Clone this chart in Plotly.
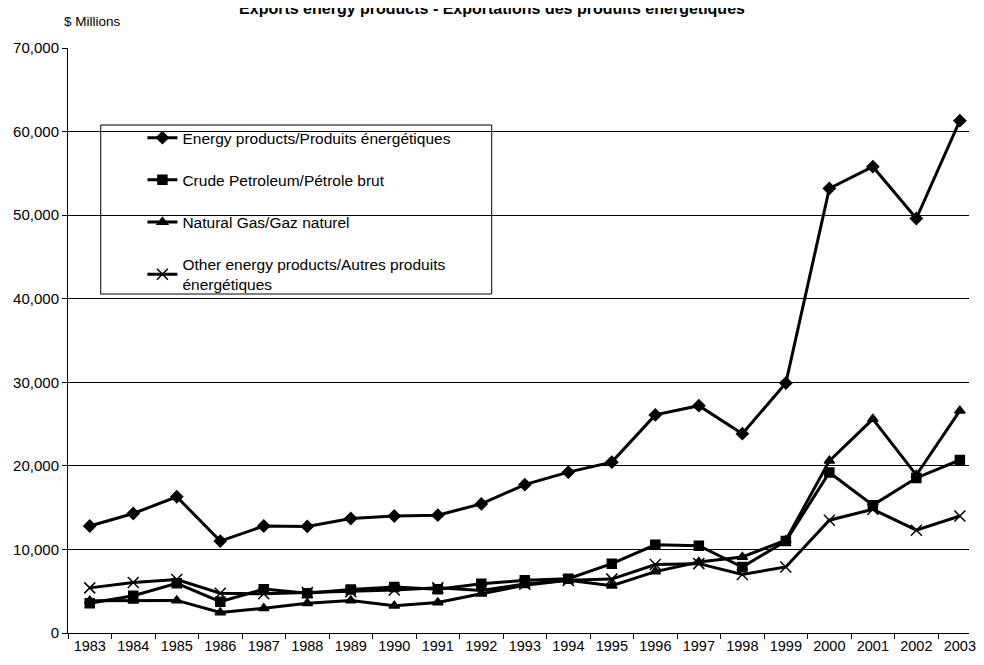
import plotly.graph_objects as go

years = [str(y) for y in range(1983, 2004)]

energy = [12800, 14300, 16300, 11000, 12800, 12750, 13700, 14000, 14100, 15450,
          17750, 19250, 20450, 26100, 27200, 23850, 29900, 53200, 55800, 49600, 61300]
crude = [3550, 4450, 5950, 3750, 5250, 4750, 5200, 5500, 5250, 5900,
         6300, 6500, 8300, 10550, 10450, 7900, 11000, 19200, 15300, 18550, 20700]
gas = [3850, 3850, 3900, 2450, 2950, 3550, 3900, 3250, 3650, 4700,
       5700, 6300, 5650, 7350, 8500, 9100, 11100, 20600, 25600, 18900, 26600]
other = [5400, 6050, 6400, 4750, 4700, 4850, 4950, 5150, 5400, 5100,
         5850, 6300, 6450, 8200, 8300, 7000, 7900, 13500, 14800, 12300, 14000]

names = ["Energy products/Produits énergétiques",
         "Crude Petroleum/Pétrole brut",
         "Natural Gas/Gaz naturel",
         "Other energy products/Autres produits<br>énergétiques"]
symbols = ["diamond", "square", "triangle-up", "x-thin"]
sizes = [9, 9, 9, 11]

fig = go.Figure()
for i, (vals, nm) in enumerate(zip([energy, crude, gas, other], names)):
    fig.add_trace(go.Scatter(
        x=years, y=vals, name=nm, mode="lines+markers",
        legendgroup="g%d" % i,
        line=dict(color="black", width=3),
        marker=dict(symbol=symbols[i], size=sizes[i], color="black",
                    line=dict(color="black", width=1.5))))

# page has an 8px body margin, so the figure is made smaller and offsets are shifted
pw = 908  # plot width in px
fig.update_layout(
    width=968, height=649,
    paper_bgcolor="white", plot_bgcolor="white",
    font=dict(family="Liberation Sans, Arial", size=15, color="black"),
    margin=dict(l=60, r=0, t=40, b=24),
    title=dict(text="<b>Exports energy products - Exportations des produits énergétiques</b>",
               x=0.5, xanchor="center", y=1.0, yanchor="middle", yref="container",
               font=dict(size=16, color="black")),
    showlegend=True,
    legend=dict(x=75 / pw, y=0.875, xanchor="left", yanchor="top",
                bgcolor="rgba(0,0,0,0)", borderwidth=0,
                itemwidth=30, tracegroupgap=19,
                font=dict(size=15.5, color="black")),
    shapes=[dict(type="rect", xref="paper", yref="paper",
                 x0=33 / pw, x1=427 / pw, y0=(633 - 294) / 585, y1=(633 - 125) / 585,
                 line=dict(color="black", width=1), fillcolor="white", layer="between")],
    annotations=[dict(text="$ Millions", xref="paper", yref="paper",
                      x=-6 / pw, y=(633 - 22) / 585, xanchor="left", yanchor="middle",
                      showarrow=False, font=dict(size=13.5))],
)

fig.update_xaxes(type="category", range=[-0.5, 20.21], showline=True, linecolor="black",
                 linewidth=1, ticks="outside", tickson="boundaries", ticklen=5,
                 tickcolor="black", showgrid=False, tickfont=dict(size=14.5))
fig.update_yaxes(range=[0, 70000], dtick=10000, tickformat=",", showline=True,
                 linecolor="black", linewidth=1, ticks="outside", ticklen=5,
                 tickcolor="black", showgrid=True, gridcolor="black", gridwidth=1,
                 zeroline=False, tickfont=dict(size=15))

fig.write_html("out.html")
